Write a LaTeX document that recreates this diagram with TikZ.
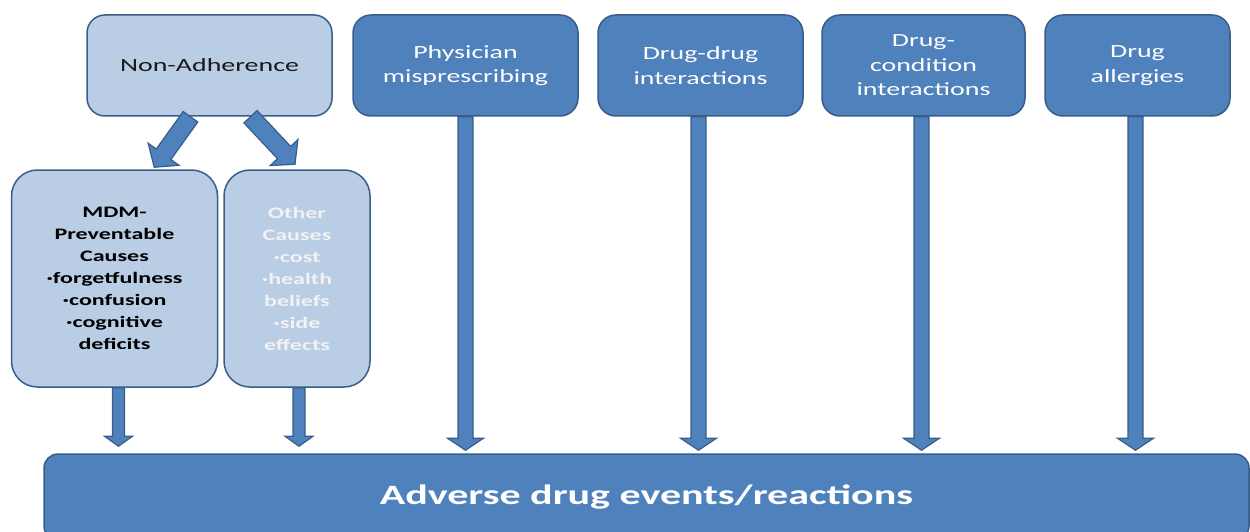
\documentclass[tikz,border=0pt]{standalone}
\usepackage{fontspec}
\setmainfont{Carlito}[FakeStretch=1.5]
\usetikzlibrary{calc}

\definecolor{boxblue}{HTML}{4F81BD}
\definecolor{boxline}{HTML}{385D8A}
\definecolor{paleblue}{HTML}{B9CDE5}
\definecolor{offwhite}{HTML}{F2F2F2}

% fat arrow: #1 from, #2 tip, #3 half shaft, #4 half head, #5 head length
\newcommand{\blockarrow}[5]{%
  \coordinate (ba-s) at ($(#2)!#5!(#1)$);
  \filldraw[fatarrow] ($(#1)!#3!90:(#2)$) -- ($(ba-s)!#3!-90:(#1)$)
    -- ($(ba-s)!#4!-90:(#1)$) -- (#2) -- ($(ba-s)!#4!90:(#1)$)
    -- ($(ba-s)!#3!90:(#1)$) -- ($(#1)!#3!-90:(#2)$) -- cycle;}
\newcommand{\bul}{·}

\begin{document}
\begin{tikzpicture}[%
    x=1pt,
    y=-1pt,
    box/.style={draw=boxline, line width=1.5pt, align=center, inner sep=0pt},
    lightbox/.style={box, fill=paleblue, text=black!90, rounded corners=18pt,
      minimum height=101pt, font=\fontsize{18.6}{24.5}\selectfont},
    darkbox/.style={box, fill=boxblue, text=white, rounded corners=18pt,
      minimum height=101pt, font=\fontsize{18.6}{24.5}\selectfont},
    causebox/.style={box, fill=paleblue, rounded corners=26pt,
      minimum height=217pt, font=\fontsize{16}{22}\selectfont\bfseries},
    fatarrow/.style={fill=boxblue, draw=boxline, line width=1.2pt, line join=miter}
    ]
    \useasboundingbox (0,0) rectangle (1250,532);
    \clip (0,0) rectangle (1250,532);

    \node[lightbox, minimum width=245pt] (nonadh) at (209.5,65.5) {Non-Adherence};
    \node[darkbox, minimum width=225pt] (phys) at (465.5,65.5) {Physician\\misprescribing};
    \node[darkbox, minimum width=205pt] (ddi) at (700.5,65.5) {Drug-drug\\interactions};
    \node[darkbox, minimum width=203pt] (dci) at (923.5,65.5) {Drug-\\condition\\interactions};
    \node[darkbox, minimum width=185pt] (allerg) at (1137.5,65.5) {Drug\\allergies};

    \node[causebox, minimum width=206pt, text=black] (mdm) at (114.5,278.5)
      {MDM-\\Preventable\\Causes\\\bul forgetfulness\\\bul confusion\\\bul cognitive\\deficits};
    \node[causebox, minimum width=146pt, text=offwhite] (other) at (297,278.5)
      {Other\\Causes\\\bul cost\\\bul health\\beliefs\\\bul side\\effects};

    \node[box, fill=boxblue, text=white, rounded corners=14pt, minimum width=1205pt,
      minimum height=86pt, font=\fontsize{28}{34}\selectfont\bfseries] (ade) at (646.5,497)
      {Adverse drug events/reactions};

    % split of non-adherence
    \blockarrow{$(nonadh.south)+(-19,0)$}{$(mdm.north east)+(-64,-2)$}{9pt}{19pt}{16pt}
    \blockarrow{$(nonadh.south)+(41,0)$}{$(other.north)+(-2,-5)$}{9pt}{19pt}{16pt}

    % into adverse events
    \blockarrow{$(mdm.south)+(4,0)$}{$(mdm.south |- ade.north)+(4,-7)$}{6pt}{14pt}{10pt}
    \blockarrow{$(other.south)+(2,0)$}{$(other.south |- ade.north)+(2,-7)$}{6pt}{14pt}{10pt}
    \blockarrow{phys.south}{$(phys.south |- ade.north)+(0,-3)$}{7.5pt}{18pt}{12pt}
    \blockarrow{$(ddi.south)+(-2,0)$}{$(ddi.south |- ade.north)+(-2,-3)$}{7.5pt}{18pt}{12pt}
    \blockarrow{$(dci.south)+(-2,0)$}{$(dci.south |- ade.north)+(-2,-3)$}{7.5pt}{18pt}{12pt}
    \blockarrow{$(allerg.south)+(-2,0)$}{$(allerg.south |- ade.north)+(-2,-3)$}{7.5pt}{18pt}{12pt}

    \end{tikzpicture}
\end{document}
